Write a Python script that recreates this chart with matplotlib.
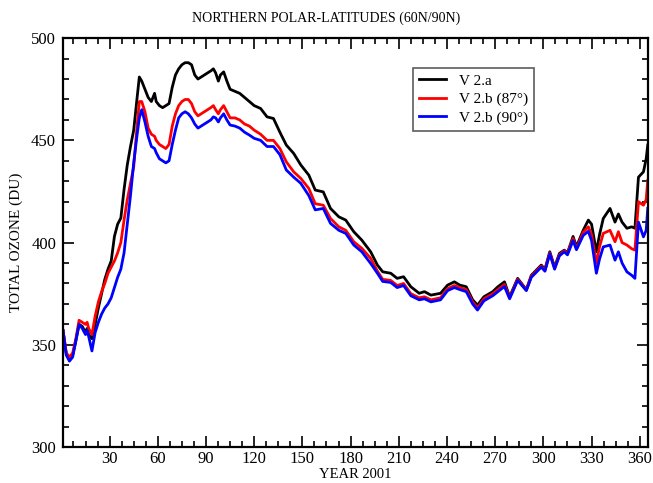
import matplotlib
matplotlib.use("Agg")
import matplotlib.pyplot as plt
from matplotlib.ticker import MultipleLocator

plt.rcParams['font.family'] = ['Liberation Serif', 'DejaVu Serif']

# day of year 2001 and total ozone (DU)
days = [1, 3, 5, 7, 9, 11, 13, 15, 16, 17, 19, 21, 23, 25, 27, 29, 31, 33, 35, 37,
        39, 41, 43, 45, 47, 48.5, 50, 52, 54, 56, 58, 59, 61, 63, 65, 67, 69, 71, 73, 75,
        77, 79, 81, 83, 85, 87, 89, 91, 93, 94.6, 96, 97.7, 99, 101, 103, 105, 108, 111, 114, 117,
        120, 124, 128, 132, 136, 140, 144.6, 149, 154, 158, 163, 167.5, 172.7, 177, 182, 187, 192.5, 196.7, 200, 205,
        209, 213, 217.5, 222.7, 226, 230, 236, 240.4, 244.6, 248, 252, 256, 259, 263, 268.5, 271.7, 275.8, 279, 284, 289.4,
        292.5, 298.7, 301, 304, 307, 310, 313, 315, 318.5, 320.6, 324.8, 328, 330, 333, 335, 337.3, 341.5, 344.6, 346.7, 349,
        352, 355, 357, 359.2, 362.3, 364, 365]

v2a = [357, 346, 343, 345, 352, 360, 359, 356, 358, 355, 353, 360, 368, 375, 382, 387, 391, 403, 409, 412,
       426, 438, 447, 455, 470, 481, 479, 475, 471, 469, 473, 469, 467, 466, 467, 468, 476, 482, 485, 487,
       488, 488, 487, 482, 480, 481, 482, 483, 484, 485, 483, 479, 482, 483.5, 479, 475, 474, 473, 471, 469,
       467, 465.6, 461.5, 460.7, 454, 447.7, 443.6, 438, 433, 425.7, 424.8, 416.7, 412.6, 411, 405.3, 401.2, 395.5, 389, 385.7, 385,
       382.5, 383.3, 378.4, 375.2, 376, 374.3, 375.2, 379.2, 380.8, 379.2, 378.4, 372, 369.4, 373.5, 376, 378.4, 380.8, 373.5, 382.5, 377,
       384, 389, 387, 395.5, 388, 394.7, 396.3, 395, 403, 398, 406, 411, 409, 395.5, 404, 411.8, 416.7, 410, 414, 410,
       407, 407.7, 407, 432, 434.6, 441, 447.7]

v2b_87 = [357, 346, 344, 346, 353, 362, 361, 360, 361, 358, 355, 364, 371, 376, 380, 385, 388, 391, 395, 400,
          411, 421, 429, 437, 456, 469, 469, 464, 456, 453, 452, 450, 448, 447, 446, 448, 457, 463, 467, 469,
          470, 470, 468, 464, 462, 463, 464, 465, 466, 467, 465, 463, 465, 467, 464, 461, 461, 460, 458, 457,
          455, 453, 450, 450, 446, 439.5, 434.6, 431.4, 426.5, 419, 418.3, 411.8, 407.7, 406, 400.4, 397.2, 392.3, 386, 382, 381.5,
          379, 380, 375, 373, 373.5, 372, 373, 377.5, 379, 378, 377, 371, 368, 372.5, 375, 377, 379.5, 373, 382, 376.8,
          383.5, 388.5, 386.5, 395, 387.5, 394, 396, 394.5, 402, 397, 405, 407.7, 404, 389.8, 398, 404.5, 406, 400.4, 405.3, 400,
          398.8, 397, 396.3, 420, 418.3, 421, 430.5]

v2b_90 = [357, 345, 342, 344, 352, 360, 358, 355, 357, 354, 347, 356, 361, 365, 368, 370, 373, 378, 383, 387,
          395, 409, 423, 439, 452, 461, 465, 459, 452, 447, 446, 444, 441, 440, 439, 440, 448, 455, 461, 463,
          464, 463, 461, 458, 456, 457, 458, 459, 460, 461.5, 461, 459, 461, 463, 460, 457.5, 457, 456, 454, 452.6,
          451, 450, 447, 447, 443, 435.5, 432, 429, 423, 416, 416.7, 409.4, 406, 404.5, 398.8, 395.5, 389.8, 385, 381, 380.5,
          378, 379, 374, 372, 372.5, 371, 372, 376.5, 378, 377, 376, 370, 367, 371.5, 374, 376, 378.5, 372.5, 381.5, 376.5,
          383, 388, 386, 394.5, 387, 393.5, 395.5, 394, 401, 396.5, 403.5, 405.5, 401, 385, 392, 397.9, 398.8, 391.4, 395.5, 390,
          385.7, 384, 382.5, 410, 402.8, 406, 416.7]

fig = plt.figure(figsize=(6.53, 4.83), dpi=100)
ax = fig.add_axes([0.0965, 0.0745, 0.8955, 0.8465])

ax.plot(days, v2a, color="black", linewidth=2, label="V 2.a")
ax.plot(days, v2b_87, color="#ff0000", linewidth=2, label="V 2.b (87°)")
ax.plot(days, v2b_90, color="#0000ff", linewidth=2, label="V 2.b (90°)")

ax.set_xlim(1, 365)
ax.set_ylim(300, 500)
ax.xaxis.set_major_locator(MultipleLocator(30))
ax.xaxis.set_minor_locator(MultipleLocator(7.5))
ax.yaxis.set_major_locator(MultipleLocator(50))
ax.yaxis.set_minor_locator(MultipleLocator(10))
ax.tick_params(which="both", direction="in", top=True, right=True, width=1.2, labelsize=12)
ax.tick_params(which="major", length=8, pad=5)
ax.tick_params(axis="x", which="major", pad=3)
ax.tick_params(which="minor", length=4.5)
for s in ax.spines.values():
    s.set_linewidth(1.6)

# title is centred on the figure, not on the axes
fig.text(0.5, 0.962, "NORTHERN POLAR-LATITUDES (60N/90N)", fontsize=10,
         ha="center", va="center")
# x label sits right at the bottom edge, as in the reference
fig.text(0.0965 + 0.8955 / 2, 0.0095, "YEAR 2001", fontsize=10.5,
         ha="center", va="baseline")
ax.set_ylabel("TOTAL OZONE (DU)", fontsize=11, labelpad=6)

leg = ax.legend(loc="upper left", bbox_to_anchor=(0.598, 0.927), fontsize=11,
                frameon=True, fancybox=False, handlelength=1.8, handletextpad=0.8,
                borderpad=0.4, labelspacing=0.3, borderaxespad=0)
leg.get_frame().set_edgecolor("#333333")
leg.get_frame().set_linewidth(1.2)

fig.savefig("out.png", dpi=100)
